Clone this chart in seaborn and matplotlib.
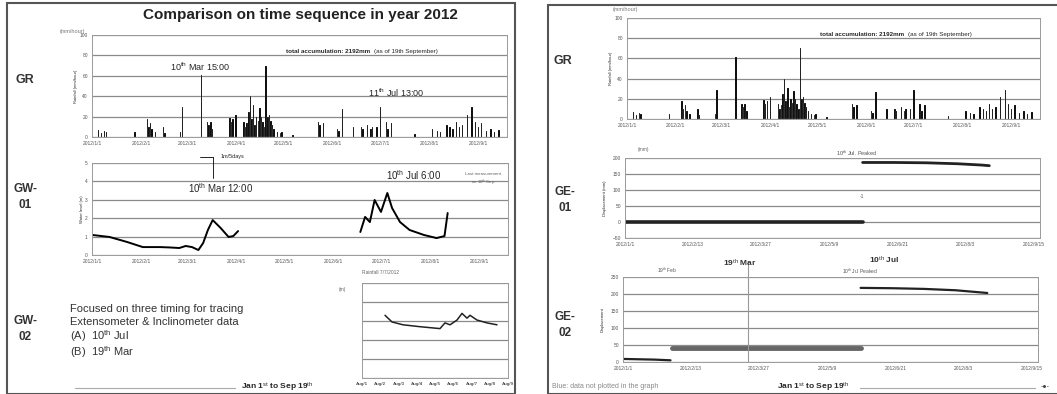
import numpy as np
import pandas as pd
import seaborn as sns
import matplotlib.pyplot as plt
from matplotlib.patches import Rectangle

W, H = 1057, 394

# rainfall, day index from 1 Jan 2012 and mm/hour
rain_day = [4, 6, 8, 9, 27, 35, 36, 37, 38, 40, 45, 46, 56, 57, 69, 73, 74, 75, 76,
            87, 88, 89, 91, 96, 97, 98, 99, 100, 101, 102, 103, 104, 105, 106, 107,
            108, 109, 110, 111, 112, 113, 114, 115, 117, 119, 120, 127, 143, 144, 146,
            155, 156, 158, 165, 170, 171, 174, 176, 177, 180, 182, 186, 187, 189, 204,
            215, 218, 220, 224, 226, 228, 230, 232, 234, 237, 240, 242, 244, 246, 249,
            252, 254, 257]
rain_mm = [7, 4, 6, 5, 5, 18, 10, 14, 8, 5, 10, 4, 5, 29, 61, 15, 12, 15, 8,
           19, 15, 18, 22, 15, 10, 14, 25, 40, 18, 31, 12, 20, 16, 28, 20,
           15, 10, 70, 20, 22, 16, 12, 8, 5, 4, 5, 2, 15, 12, 14,
           8, 6, 27, 10, 10, 8, 12, 8, 10, 10, 29, 15, 8, 14, 3,
           8, 6, 5, 12, 10, 8, 15, 10, 12, 22, 29, 15, 10, 14, 6,
           8, 5, 7]
month_days = [0, 31, 60, 91, 121, 152, 182, 213, 244]
month_lbl = ['2012/1/1', '2012/2/1', '2012/3/1', '2012/4/1', '2012/5/1',
             '2012/6/1', '2012/7/1', '2012/8/1', '2012/9/1']

# groundwater level GW-01 (m), two recorded stretches
gw1a_day = [0, 11, 22, 32, 43, 49, 55, 59, 63, 67, 70, 73, 76, 81, 86, 89, 92]
gw1a_lvl = [1.09, 0.98, 0.71, 0.43, 0.43, 0.41, 0.38, 0.49, 0.43, 0.27, 0.65,
            1.36, 1.90, 1.47, 0.98, 1.03, 1.30]
gw1b_day = [169, 172, 175, 178, 182, 186, 189, 194, 200, 209, 217, 222, 224]
gw1b_lvl = [1.25, 2.07, 1.79, 2.99, 2.34, 3.37, 2.55, 1.79, 1.36, 1.09, 0.92, 1.03, 2.28]

# GW-02 small chart
gw2_t = [23, 30, 41, 58, 78, 83, 88, 95, 100, 105, 108, 115, 125, 135]
gw2_lvl = [3.3, 2.95, 2.8, 2.7, 2.6, 2.9, 2.8, 3.05, 3.4, 3.15, 3.3, 3.05, 2.9, 2.8]

# extensometers (mm)
ge_days = [0, 43, 86, 129, 172, 215, 258]
ge_lbl = ['2012/1/1', '2012/2/13', '2012/3/27', '2012/5/9', '2012/6/21', '2012/8/3', '2012/9/15']
ge1a_day = [0, 40, 80, 120, 150]
ge1a_val = [0, 0, 0, 0, 0]
ge1b_day = [150, 170, 190, 210, 225, 230]
ge1b_val = [186, 186, 185, 182, 178, 176]
ge2a_day = [0, 10, 20, 30]
ge2a_val = [9, 8, 7, 5]
ge2b_day = [31, 60, 90, 120, 150]
ge2b_val = [41, 41, 41, 41, 41]
ge2c_day = [150, 170, 190, 210, 225, 230]
ge2c_val = [218, 217, 215, 211, 205, 203]

sns.set_theme(style='white')
plt.rcParams['font.family'] = ['Liberation Sans', 'DejaVu Sans']
plt.rcParams['mathtext.fontset'] = 'custom'
plt.rcParams['mathtext.rm'] = 'Liberation Sans'
plt.rcParams['mathtext.it'] = 'Liberation Sans'
plt.rcParams['mathtext.bf'] = 'Liberation Sans:bold'

fig = plt.figure(figsize=(W / 100, H / 100), dpi=100)


def box(x0, y0, x1, y1):
    return [x0 / W, 1 - y1 / H, (x1 - x0) / W, (y1 - y0) / H]


def ft(x, y, s, **kw):
    kw.setdefault('ha', 'center')
    kw.setdefault('va', 'center')
    fig.text(x / W, 1 - y / H, s, **kw)


def style(ax, xt, xl, yl, yt):
    ax.set_facecolor('white')
    ax.set_yticks(yt)
    ax.set_ylim(yl)
    ax.set_xticks(xt)
    ax.set_xticklabels(xl)
    ax.grid(axis='y', color='#8a8a8a', lw=0.9)
    ax.grid(axis='x', visible=False)
    for s in ax.spines.values():
        s.set_color('#9a9a9a')
        s.set_linewidth(0.7)
    ax.tick_params(labelsize=3.5, length=1.5, pad=1.5, colors='#555555')
    ax.set_xlabel('')
    ax.set_ylabel('')


# slide frames
fig.add_artist(Rectangle((7 / W, 0), 508 / W, 391 / H, transform=fig.transFigure,
                         fill=False, ec='#555555', lw=1.5))
fig.add_artist(Rectangle((548 / W, 0), 520 / W, 389 / H, transform=fig.transFigure,
                         fill=False, ec='#555555', lw=1.5))

rain = pd.DataFrame({'day': rain_day, 'mm': rain_mm})

# ---- left slide
ft(300, 15, 'Comparison on time sequence in year 2012', fontsize=11, fontweight='bold', color='#222222')

for pos in [box(92, 35, 507, 137), box(627, 18, 1040, 119)]:
    ax = fig.add_axes(pos)
    sns.histplot(data=rain, x='day', weights='mm', discrete=True, color='black',
                 alpha=1, edgecolor=None, shrink=0.95, ax=ax)
    ax.set_xlim(0, 262)
    style(ax, month_days, month_lbl, (0, 100), [0, 20, 40, 60, 80, 100])
    ax.set_ylabel('Rainfall (mm/hour)', fontsize=3, labelpad=1)
    ax.text(0.67, 0.84, 'total accumulation: 2192mm', transform=ax.transAxes, fontsize=4.5,
            fontweight='bold', ha='right', va='center')
    ax.text(0.68, 0.84, '(as of 19th September)', transform=ax.transAxes, fontsize=4.5,
            ha='left', va='center')

ft(200, 67, '10$^{th}$ Mar 15:00', fontsize=6.5)
ft(396, 93, '11$^{th}$ Jul 13:00', fontsize=6.5)
ft(72, 31, '(mm/hour)', fontsize=4, color='#777777')
ft(625, 10, '(mm/hour)', fontsize=4, color='#777777')

ax = fig.add_axes(box(92, 163, 508, 255))
sns.lineplot(x=gw1a_day, y=gw1a_lvl, color='black', lw=1.4, ax=ax)
sns.lineplot(x=gw1b_day, y=gw1b_lvl, color='black', lw=1.4, ax=ax)
ax.set_xlim(0, 262)
style(ax, month_days, month_lbl, (0, 5), [0, 1, 2, 3, 4, 5])
ax.set_ylabel('Water level (m)', fontsize=3, labelpad=1)
ft(25, 80, 'GR', fontsize=9, fontweight='bold', color='#333333')
ft(25, 197, 'GW-\n01', fontsize=8.5, fontweight='bold', color='#333333', linespacing=1.4)
ft(221, 188, '10$^{th}$ Mar 12:00', fontsize=7)
ft(414, 175, '10$^{th}$ Jul 6:00', fontsize=7)
ft(483, 180, 'Last measurement\non 10$^{th}$ Sep', fontsize=3.2, color='#666666')
fig.add_artist(plt.Line2D([213 / W, 213 / W], [1 - 157 / H, 1 - 178 / H], color='black', lw=0.6))
fig.add_artist(plt.Line2D([200 / W, 213 / W], [1 - 157 / H, 1 - 157 / H], color='black', lw=0.6))
ft(232, 157, '1m/5days', fontsize=4)

ft(25, 329, 'GW-\n02', fontsize=8.5, fontweight='bold', color='#333333', linespacing=1.4)
ft(70, 309, 'Focused on three timing for tracing', fontsize=8, ha='left', color='#333333')
ft(70, 322, 'Extensometer & Inclinometer data', fontsize=8, ha='left', color='#333333')
ft(70, 336, '(A)  10$^{th}$ Jul', fontsize=8, ha='left', color='#333333')
ft(70, 352, '(B)  19$^{th}$ Mar', fontsize=8, ha='left', color='#333333')

ax = fig.add_axes(box(362, 283, 508, 378))
sns.lineplot(x=gw2_t, y=gw2_lvl, color='#222222', lw=1.1, ax=ax)
ax.set_xlim(0, 146)
style(ax, np.linspace(0, 146, 9), ['Aug/%d' % d for d in range(1, 10)], (0, 5), [0, 1, 2, 3, 4, 5])
ax.set_yticklabels([])
ax.tick_params(axis='x', labelsize=3.2)
for t in ax.get_xticklabels():
    t.set_fontweight('bold')
ft(381, 273, 'Rainfall 7/7/2012', fontsize=3.5, color='#666666')
ft(342, 289, '(m)', fontsize=3.5, color='#666666')

fig.add_artist(plt.Line2D([75 / W, 235 / W], [1 - 388 / H, 1 - 388 / H], color='#aaaaaa', lw=0.8))
ft(277, 387, 'Jan 1$^{st}$ to Sep 19$^{th}$', fontsize=6, fontweight='bold')

# ---- right slide
ft(563, 61, 'GR', fontsize=9, fontweight='bold', color='#333333')
ft(565, 200, 'GE-\n01', fontsize=8.5, fontweight='bold', color='#333333', linespacing=1.4)
ft(565, 325, 'GE-\n02', fontsize=8.5, fontweight='bold', color='#333333', linespacing=1.4)

ax = fig.add_axes(box(625, 158, 1040, 238))
sns.lineplot(x=ge1a_day, y=ge1a_val, color='#222222', lw=2.6, ax=ax)
sns.lineplot(x=ge1b_day, y=ge1b_val, color='#222222', lw=2.0, ax=ax)
ax.set_xlim(0, 262)
style(ax, ge_days, ge_lbl, (-50, 200), [-50, 0, 50, 100, 150, 200])
ax.set_ylabel('Displacement (mm)', fontsize=3, labelpad=4)
ft(857, 153, '10$^{th}$ Jul. Peaked', fontsize=4, color='#555555')
ft(862, 197, '-1', fontsize=3.5, color='#555555')
ft(643, 150, '(mm)', fontsize=3.5, color='#666666')

ax = fig.add_axes(box(623, 277, 1038, 362))
sns.lineplot(x=ge2a_day, y=ge2a_val, color='#222222', lw=1.6, ax=ax)
sns.lineplot(x=ge2b_day, y=ge2b_val, color='#666666', lw=3.5, ax=ax)
sns.lineplot(x=ge2c_day, y=ge2c_val, color='#222222', lw=1.6, ax=ax)
ax.axvline(79, color='#999999', lw=0.8, ymax=1.16, clip_on=False)
ax.set_xlim(0, 262)
style(ax, ge_days, ge_lbl, (0, 250), [0, 50, 100, 150, 200, 250])
ax.set_ylabel('Displacement', fontsize=3, labelpad=4)
ft(740, 263, '19$^{th}$ Mar', fontsize=6, fontweight='bold', color='#333333')
ft(884, 260, '10$^{th}$ Jul', fontsize=6, fontweight='bold', color='#333333')
ft(667, 270, '19$^{th}$ Feb', fontsize=3.5, color='#555555')
ft(860, 271, '10$^{th}$ Jul Peaked', fontsize=3.5, color='#555555')

ft(552, 387, 'Blue: data not plotted in the graph', fontsize=5, ha='left', color='#888888')
ft(813, 387, 'Jan 1$^{st}$ to Sep 19$^{th}$', fontsize=6, fontweight='bold')
fig.add_artist(plt.Line2D([860 / W, 1035 / W], [1 - 388 / H, 1 - 388 / H], color='#aaaaaa', lw=0.8))
ft(1045, 387, '-\u25cf-', fontsize=5, color='#444444')

fig.savefig('out.png', dpi=100)
